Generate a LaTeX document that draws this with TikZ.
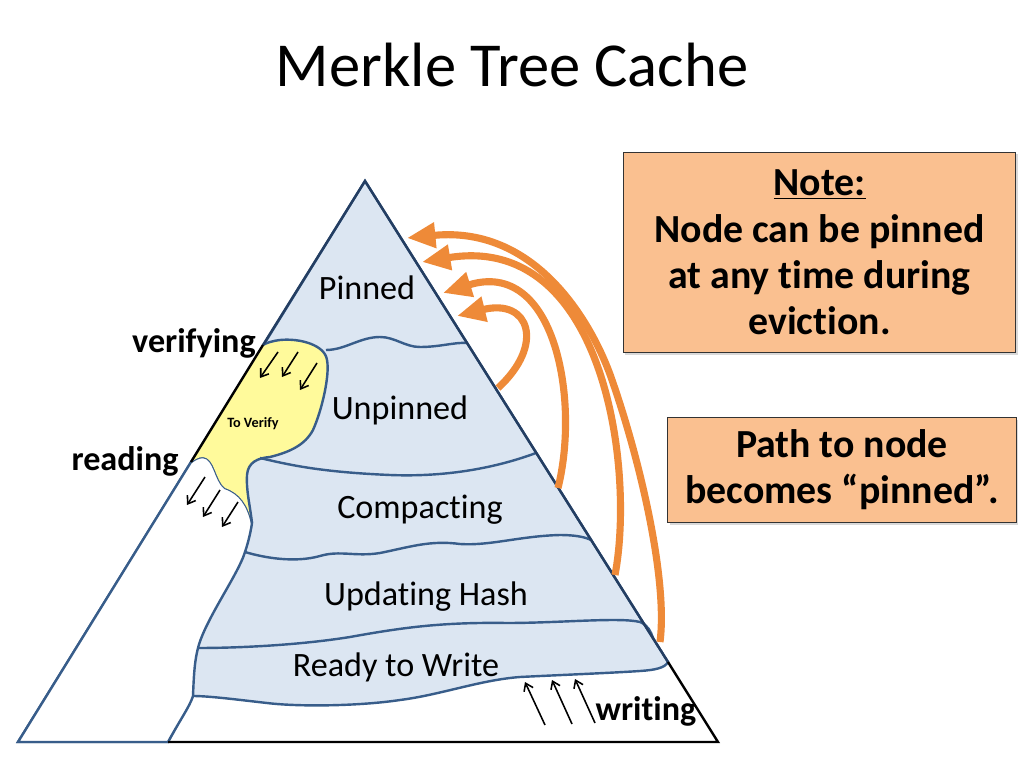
\documentclass[tikz,border=0pt]{standalone}
\usepackage{fontspec}
\setmainfont{Carlito}[Ligatures=NoCommon]
\usetikzlibrary{arrows.meta,shadows}
\definecolor{bandfill}{RGB}{220,230,242}
\definecolor{bandline}{RGB}{56,93,138}
\definecolor{edgeblue}{RGB}{36,62,98}
\definecolor{verifyfill}{RGB}{255,250,155}
\definecolor{pinorange}{RGB}{238,138,56}
\definecolor{notefill}{RGB}{250,192,144}

\begin{document}
\begin{tikzpicture}[x=0.703125pt, y=-0.703125pt,
  band/.style={draw=bandline, line width=1.7pt},
  layer/.style={anchor=base, font=\fontsize{24}{29}\selectfont},
  action/.style={anchor=base, font=\fontsize{24}{29}\selectfont\bfseries},
  notebox/.style={draw=black!80, line width=0.8pt, fill=notefill, align=center,
    font=\fontsize{28}{32.5}\selectfont\bfseries,
    drop shadow={opacity=0.3, shadow xshift=1.5pt, shadow yshift=-1.5pt}},
  pinarrow/.style={draw=pinorange, line width=5pt, -{Triangle[length=20pt,width=17pt]}},
  moves/.style={draw=black, line width=1.1pt, -{Straight Barb[length=5pt,width=7pt]}}]
\useasboundingbox (0,0) rectangle (1024,768);

\node[anchor=base] (title) at (512,87) {\fontsize{44}{53}\selectfont Merkle Tree Cache};

% corners of the pyramid
\coordinate (apex) at (365,181);
\coordinate (verify) at (263,345);
\coordinate (read) at (191,462);
\coordinate (botleft) at (18,742);
\coordinate (botwhite) at (168,742);
\coordinate (botright) at (718,742);
\coordinate (readyend) at (668,662);

% blue layers
\filldraw[fill=bandfill, band] (apex) -- (readyend)
  .. controls (665,668) and (655,670) .. (640,671)
  .. controls (610,673) and (560,675) .. (520,677)
  .. controls (480,680) and (440,695) .. (400,700)
  .. controls (360,706) and (300,707) .. (267,703)
  .. controls (240,700) and (210,696) .. (193,696)
  -- (botwhite) -- (botleft) -- cycle;

% nodes being read
\filldraw[fill=white, band] (read) -- (botleft) -- (botwhite)
  .. controls (180,720) and (190,706) .. (193,696)
  .. controls (194,670) and (195,660) .. (198,648)
  .. controls (205,620) and (238,575) .. (245,552)
  .. controls (249,540) and (251,530) .. (252,523)
  .. controls (248,505) and (240,493) .. (225,488)
  .. controls (215,480) and (215,458) .. (203,457)
  .. controls (198,457) and (194,460) .. (read);

% nodes to verify
\fill[verifyfill] (verify) -- (read)
  .. controls (194,460) and (198,457) .. (203,457)
  .. controls (215,458) and (215,480) .. (225,488)
  .. controls (240,493) and (248,505) .. (252,523)
  .. controls (250,505) and (246,490) .. (247,475)
  .. controls (248,462) and (258,458) .. (270,457)
  .. controls (290,452) and (305,445) .. (313,430)
  .. controls (322,410) and (330,375) .. (327,360)
  .. controls (325,345) and (300,338) .. (280,340)
  .. controls (272,341) and (266,343) .. (verify) -- cycle;
\draw[band] (252,523)
  .. controls (250,505) and (246,490) .. (247,475)
  .. controls (248,462) and (258,458) .. (270,457)
  .. controls (290,452) and (305,445) .. (313,430)
  .. controls (322,410) and (330,375) .. (327,360)
  .. controls (325,345) and (300,338) .. (280,340)
  .. controls (272,341) and (266,343) .. (verify);

% wavy borders between layers
\draw[band] (326,350) .. controls (345,350) and (360,337) .. (380,337)
  .. controls (395,337) and (405,347) .. (420,347)
  .. controls (440,347) and (455,342) .. (467,343);
\draw[band] (260,458) .. controls (290,465) and (320,472) .. (390,475)
  .. controls (440,477) and (490,470) .. (536,453);
\draw[band] (245,552) .. controls (265,558) and (295,563) .. (320,556)
  .. controls (340,550) and (355,557) .. (380,553)
  .. controls (410,547) and (430,540) .. (460,544)
  .. controls (490,546) and (520,536) .. (560,535)
  .. controls (575,535) and (585,537) .. (591,540);
\draw[band] (198,648) .. controls (240,648) and (300,645) .. (350,637)
  .. controls (400,628) and (440,622) .. (507,623)
  .. controls (560,623) and (620,617) .. (640,622)
  .. controls (648,625) and (651,632) .. (653,638);

% outline
\draw[edgeblue, line width=1.7pt] (verify) -- (apex) -- (readyend);
\draw[black, line width=1.7pt] (verify) -- (read);
\draw[black, line width=1.7pt] (readyend) -- (botright) -- (botwhite);

\node[layer] (pinned) at (367,299) {Pinned};
\node[layer] (unpinned) at (400,419) {Unpinned};
\node[layer] (compacting) at (420,518) {Compacting};
\node[layer] (updating) at (426,605) {Updating Hash};
\node[layer] (ready) at (396,676) {Ready to Write};
\node[anchor=base, font=\fontsize{10}{12}\selectfont\bfseries] (toverify) at (253,427) {To Verify};

\node[action] (verifying) at (194,352) {verifying};
\node[action] (reading) at (125,470) {reading};
\node[action] (writing) at (646,720) {writing};

% small arrows
\draw[moves] (278,352) -- (260,378);
\draw[moves] (298,352) -- (282,377);
\draw[moves] (317,363) -- (300,390);
\draw[moves] (205,477) -- (187,505);
\draw[moves] (220,490) -- (203,517);
\draw[moves] (238,502) -- (222,527);
\draw[moves] (545,725) -- (525,682);
\draw[moves] (572,724) -- (552,680);
\draw[moves] (595,723) -- (575,679);

% pinning the path
\coordinate (from1) at (498,388);
\coordinate (to1) at (457,316);
\coordinate (from2) at (558,488);
\coordinate (to2) at (443,293);
\coordinate (from3) at (615,575);
\coordinate (to3) at (422,262);
\coordinate (from4) at (660,642);
\coordinate (to4) at (407,238);
\draw[pinarrow] (from1) .. controls (545,345) and (530,298) .. (to1);
\draw[pinarrow] (from2) .. controls (580,400) and (555,258) .. (to2);
\draw[pinarrow] (from3) .. controls (635,470) and (605,232) .. (to3);
\draw[pinarrow] (from4) .. controls (668,580) and (640,460) .. (612,380)
  .. controls (595,330) and (540,225) .. (to4);

\node[notebox, minimum width=276pt, minimum height=141pt] (note) at (819.5,252.5)
  {\underline{Note:}\\Node can be pinned\\at any time during\\eviction.};
\node[notebox, minimum width=245pt, minimum height=74pt] (path) at (842,470)
  {Path to node\\becomes “pinned”.};
\end{tikzpicture}
\end{document}
